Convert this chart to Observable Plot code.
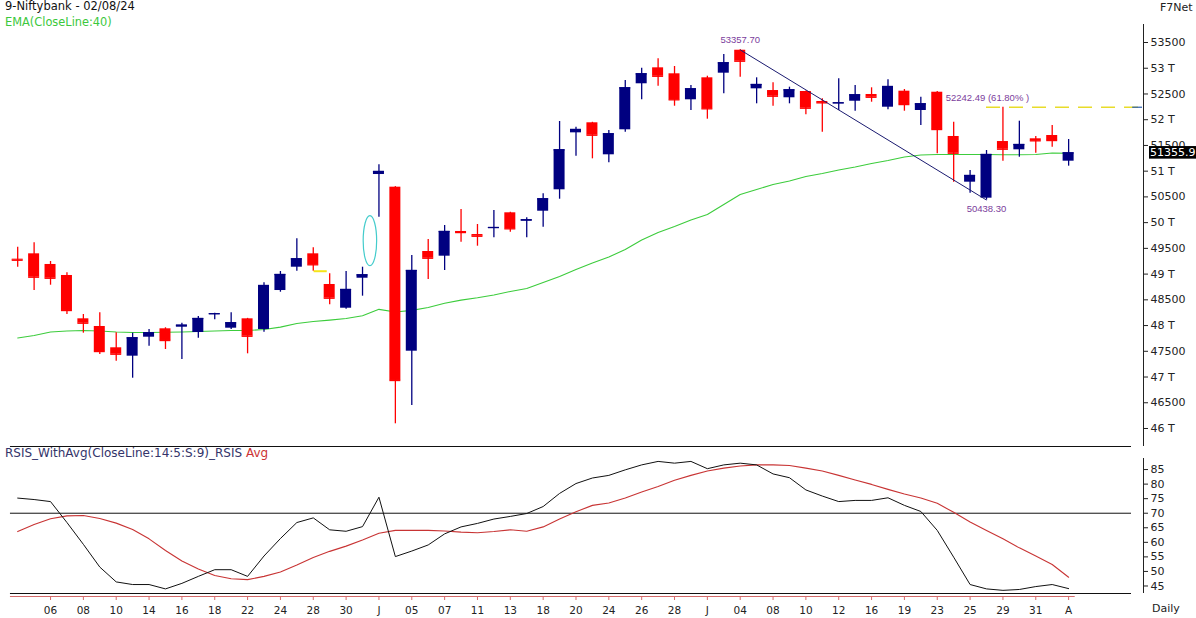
<!DOCTYPE html>
<html><head><meta charset="utf-8">
<script src="https://cdn.jsdelivr.net/npm/d3@7"></script>
<script src="https://cdn.jsdelivr.net/npm/@observablehq/plot@0.6"></script>
<style>
body{margin:0;background:#fff;}
#chart{position:relative;width:1196px;height:618px;overflow:hidden;font-family:"DejaVu Sans",Verdana,sans-serif;background:#fff;}
.lbl{position:absolute;white-space:nowrap;font-size:11px;line-height:1;}
#topPanel,#bottomPanel{position:absolute;left:0;}
</style></head><body>
<div id="chart">
 <div id="topPanel" style="top:0"></div>
 <div id="bottomPanel" style="top:446px"></div>
 <div class="lbl" style="left:5px;top:1px;font-size:11.5px;color:#111">9-Niftybank - 02/08/24</div>
 <div class="lbl" style="left:5px;top:17px;font-size:11.4px;color:#3cc83c">EMA(CloseLine:40)</div>
 <div class="lbl" style="left:1160px;top:2px;color:#222">F7Net</div>
 <div class="lbl" style="left:5px;top:447px;font-size:12px;color:#34346a">RSIS_WithAvg(CloseLine:14:5:S:9)_RSIS <span style="color:#cc3333">Avg</span></div>
 <div class="lbl" style="left:1152px;top:603px;color:#222">Daily</div>
</div>
<script>
// ---------- data ----------
const dates = ["2024-05-02","2024-05-03","2024-05-06","2024-05-07","2024-05-08","2024-05-09","2024-05-10","2024-05-13","2024-05-14","2024-05-15","2024-05-16","2024-05-17","2024-05-18","2024-05-21","2024-05-22","2024-05-23","2024-05-24","2024-05-27","2024-05-28","2024-05-29","2024-05-30","2024-05-31","2024-06-03","2024-06-04","2024-06-05","2024-06-06","2024-06-07","2024-06-10","2024-06-11","2024-06-12","2024-06-13","2024-06-14","2024-06-18","2024-06-19","2024-06-20","2024-06-21","2024-06-24","2024-06-25","2024-06-26","2024-06-27","2024-06-28","2024-07-01","2024-07-02","2024-07-03","2024-07-04","2024-07-05","2024-07-08","2024-07-09","2024-07-10","2024-07-11","2024-07-12","2024-07-15","2024-07-16","2024-07-18","2024-07-19","2024-07-22","2024-07-23","2024-07-24","2024-07-25","2024-07-26","2024-07-29","2024-07-30","2024-07-31","2024-08-01","2024-08-02"];
const open  = [49290,49394,49187,48973,48131,47982,47568,47405,47774,47937,47968,47865,48215,47949,48131,47924,48681,49134,49394,48798,48337,48920,50935,50689,47502,49439,49348,49828,49769,49886,50191,50028,50222,50638,51745,51940,51318,51804,52698,53008,52892,52387,52814,52904,53350,52600,52567,52426,52548,52354,52309,52359,52490,52243,52554,52179,52534,51674,50786,50475,51576,51415,51629,51693,51194];
const high  = [49523,49608,49245,49025,48215,48248,47859,47852,47924,47957,48046,48176,48240,48248,48140,48831,49050,49686,49511,49006,49050,49134,51124,50700,49361,49672,49944,50255,49964,50236,50200,50094,50560,51965,51854,51950,51790,52762,53001,53183,53034,52664,52845,53267,53357.70,52814,52717,52632,52560,52406,52795,52664,52620,52775,52587,52437,52550,51951,51013,51402,52242.49,51971,51674,51887,51615];
const low   = [49134,48681,48784,48215,47852,47438,47308,46977,47599,47535,47341,47755,48112,47924,47451,47871,48648,49056,49056,48403,48318,48571,50106,46091,46447,48895,49070,49620,49542,49705,49814,49705,49911,50455,51291,51240,51163,51757,52387,52651,52262,52179,52010,52503,52826,52309,52262,52309,52095,51757,52179,52165,52340,52192,52165,51887,51337,50786,50572,50438.30,51194,51271,51349,51466,51097];
const close = [49270,48940,48920,48293,48046,47496,47444,47762,47859,47710,48007,48137,48229,48054,47793,48778,48992,49297,49181,48532,48701,48986,50994,46933,49070,49309,49828,49808,49736,49905,49880,50055,50463,51415,51810,51699,51726,52620,52892,52845,52387,52600,52212,53106,53137,52684,52457,52581,52224,52328,52328,52484,52437,52645,52295,52309,51810,51349,50916,51324,51427,51518,51590,51596,51355.9];
const ema40 = [47758,47807,47875,47894,47904,47894,47875,47865,47865,47871,47875,47885,47894,47904,47904,47924,47970,48040,48080,48105,48137,48190,48315,48265,48295,48350,48435,48495,48540,48594,48662,48720,48837,48953,49089,49216,49332,49478,49663,49808,49925,50051,50158,50352,50547,50644,50741,50809,50896,50955,51023,51081,51149,51207,51275,51314,51324,51324,51324,51324,51318,51318,51324,51353,51349];
const rsi    = [75.2,74.7,74.0,66.8,59.3,51.5,46.4,45.5,45.5,44.0,45.9,48.3,50.6,50.6,48.3,55.3,61.3,66.8,68.4,64.3,63.8,65.4,75.5,55.1,57.0,59.1,62.9,65.3,66.5,68.0,68.9,69.9,72.3,76.8,80.2,82.1,83.0,84.9,86.6,87.8,87.2,87.8,85.3,86.6,87.2,86.6,83.5,82.2,78.0,75.9,74.0,74.4,74.4,75.3,72.7,70.6,64.1,54.9,45.5,44.0,43.5,43.8,44.8,45.5,44.1];
const rsiAvg = [63.7,66.1,68.1,69.1,69.2,68.2,66.6,64.4,61.2,57.2,53.6,50.8,48.6,47.5,47.2,48.3,49.8,52.2,54.8,56.9,58.7,60.8,63.1,64.1,64.1,64.1,63.9,63.5,63.3,63.7,64.3,63.8,65.3,68.0,70.5,72.7,73.5,75.2,77.3,79.2,81.3,83.0,84.5,85.5,86.2,86.6,86.6,86.4,85.5,84.5,83.0,81.4,79.9,78.2,76.6,75.2,73.4,70.3,67.0,64.1,61.2,58.1,55.3,52.4,48.0];
const tickDates  = ["2024-05-06","2024-05-08","2024-05-10","2024-05-14","2024-05-16","2024-05-18","2024-05-22","2024-05-24","2024-05-28","2024-05-30","2024-06-03","2024-06-05","2024-06-07","2024-06-11","2024-06-13","2024-06-18","2024-06-20","2024-06-24","2024-06-26","2024-06-28","2024-07-02","2024-07-04","2024-07-08","2024-07-10","2024-07-12","2024-07-16","2024-07-19","2024-07-23","2024-07-25","2024-07-29","2024-07-31","2024-08-02"];
const tickLabels = ["06","08","10","14","16","18","22","24","28","30","J","05","07","11","13","18","20","24","26","28","J","04","08","10","12","16","19","23","25","29","31","A"];
const priceTicks = [46000,46500,47000,47500,48000,48500,49000,49500,50000,50500,51000,51500,52000,52500,53000,53500];
const rsiTicks = [45,50,55,60,65,70,75,80,85];
const rsiLevel = [70];
const swingHigh = {date:"2024-07-04", value:53357.70, label:"53357.70"};
const swingLow  = {date:"2024-07-26", value:50438.30, label:"50438.30"};
const fibLevel  = {value:52242.49, label:"52242.49 (61.80% )", labelDate:"2024-07-24"};
const yellowMark = {date:"2024-05-28", value:49056};
const ellipseNote = {date:"2024-05-31", y1:49153, y2:50125};
const lastClose = 51355.9;

// ---------- layout ----------
const W = 1196, MR = 53;
const xDomain = [-1.047, 68.56];
const xLeft = -0.44, xRight = 67.83;
const priceDomain = [45650, 53850];
const rsiDomain = [42.42, 88.8];
const HW = 0.335;
const UP = "#000080", DOWN = "#ff0000";
const idx = d => dates.indexOf(d);

const candles = dates.map((d,i)=>({i, o:open[i], h:high[i], l:low[i], c:close[i], col: close[i]>=open[i]?UP:DOWN, ema:ema40[i]}));
const rsiRows = dates.map((d,i)=>({i, r:rsi[i], a:rsiAvg[i]}));
const tickIdx = tickDates.map(idx);
const tickMap = new Map(tickIdx.map((t,k)=>[t,tickLabels[k]]));

const font = "DejaVu Sans";
const purple = "#7b3d9c";

const priceTag = (index, scales, values, dims) => {
  const y = scales.y(lastClose);
  const x0 = dims.width - dims.marginRight + 6;
  const g = d3.create("svg:g");
  g.append("rect").attr("x", x0).attr("y", y-6.3).attr("width", 60).attr("height", 12.6).attr("fill", "#000");
  g.append("text").attr("x", x0+1).attr("y", y).attr("dy","0.36em").attr("fill","#fff")
    .attr("text-anchor","start").attr("font-size", 11).attr("font-family", font).text(lastClose.toFixed(1));
  return g.node();
};
const ellipse = (index, scales) => {
  const i = idx(ellipseNote.date) + 0.48;
  const cx = scales.x(i);
  const ya = scales.y(ellipseNote.y2), yb = scales.y(ellipseNote.y1);
  const rx = (scales.x(i+0.41) - scales.x(i-0.41))/2;
  const g = d3.create("svg:g");
  g.append("ellipse").attr("cx", cx).attr("cy", (ya+yb)/2).attr("rx", rx).attr("ry", (yb-ya)/2)
    .attr("fill","none").attr("stroke","#44cccc").attr("stroke-width",1.2);
  return g.node();
};

const priceChart = Plot.plot({
  width: W, height: 450, marginTop: 24, marginBottom: 4, marginLeft: 0, marginRight: MR,
  x: {type:"linear", domain: xDomain, axis: null},
  y: {domain: priceDomain, axis: null},
  color: {type: "identity"},
  style: {fontFamily: font, fontSize: "11px", color: "#222", background: "transparent", overflow: "visible"},
  marks: [
    Plot.ruleY([priceDomain[0]], {x1: xLeft, x2: xRight, stroke: "#111"}),
    Plot.ruleX([xDomain[1]], {y1: priceDomain[0], y2: priceDomain[1], stroke: "#222"}),
    Plot.line(candles, {x: "i", y: "ema", stroke: "#3ccc3c", strokeWidth: 1.1}),
    Plot.ruleX(candles, {x: "i", y1: "l", y2: "h", stroke: "col", strokeWidth: 1.3}),
    Plot.rect(candles, {x1: d => d.i - HW, x2: d => d.i + HW, y1: "o", y2: "c", fill: "col"}),
    Plot.ruleY(candles, {y: "c", x1: d => d.i - HW, x2: d => d.i + HW, stroke: "col", strokeWidth: 1.4}),
    Plot.ruleY([yellowMark], {y: "value", x1: d => idx(d.date) + 0.05, x2: d => idx(d.date) + 0.85, stroke: "#f5e41a", strokeWidth: 2}),
    Plot.link([swingHigh], {x1: () => idx(swingHigh.date), y1: () => swingHigh.value, x2: () => idx(swingLow.date), y2: () => swingLow.value, stroke: "#1a1a70", strokeWidth: 1}),
    Plot.ruleY([fibLevel], {y: "value", x1: () => idx(swingLow.date), x2: () => xRight + 0.55, stroke: "#e8dc2a", strokeWidth: 1.6, strokeDasharray: "14,9"}),
    Plot.ruleY([fibLevel], {y: "value", x1: () => xRight + 0.07, x2: () => xRight + 0.67, stroke: "#2b5fb0", strokeWidth: 1.2}),
    Plot.text([swingHigh], {x: d => idx(d.date), y: "value", text: "label", dy: -10, fill: purple, fontSize: 9.5, fontFamily: "Liberation Sans"}),
    Plot.text([swingLow], {x: d => idx(d.date), y: "value", text: "label", dy: 9, fill: purple, fontSize: 9.5, fontFamily: "Liberation Sans"}),
    Plot.text([fibLevel], {x: d => idx(d.labelDate), y: "value", text: "label", dx: -8, dy: -9, textAnchor: "start", fill: purple, fontSize: 9.5, fontFamily: "Liberation Sans"}),
    Plot.axisY(priceTicks, {anchor: "right", label: null, tickSize: 4, tickPadding: 3, fontSize: 11, stroke: "#222", fill: "#222",
      tickFormat: d => d % 1000 === 0 ? `${d/1000} T` : `${d}`}),
    ellipse,
    priceTag
  ]
});
document.getElementById("topPanel").appendChild(priceChart);

const rsiChart = Plot.plot({
  width: W, height: 172, marginTop: 12, marginBottom: 25, marginLeft: 0, marginRight: MR,
  x: {type:"linear", domain: xDomain, axis: null},
  y: {domain: rsiDomain, axis: null},
  style: {fontFamily: font, fontSize: "11px", color: "#222", background: "transparent", overflow: "visible"},
  marks: [
    Plot.ruleY(rsiLevel, {x1: xLeft, x2: xRight, stroke: "#111"}),
    Plot.ruleY([rsiDomain[0]], {x1: xLeft, x2: xRight, stroke: "#111"}),
    Plot.ruleY([rsiDomain[0]], {x1: xLeft, x2: 64.4, stroke: "#d46a6a", dy: 3}),
    Plot.ruleX([xDomain[1]], {y1: rsiDomain[0], y2: rsiDomain[1], stroke: "#222"}),
    Plot.line(rsiRows, {x: "i", y: "a", stroke: "#c83434", strokeWidth: 1.1}),
    Plot.line(rsiRows, {x: "i", y: "r", stroke: "#111", strokeWidth: 1}),
    Plot.axisY(rsiTicks, {anchor: "right", label: null, tickSize: 4, tickPadding: 3, fontSize: 11, stroke: "#222", fill: "#222"}),
    Plot.axisX(tickIdx, {anchor: "bottom", label: null, tickSize: 4, tickPadding: 6, dy: 3, fontSize: 10.5, stroke: "#d46a6a", fill: "#222",
      tickFormat: d => tickMap.get(d)})
  ]
});
document.getElementById("bottomPanel").appendChild(rsiChart);
</script>
</body></html>
